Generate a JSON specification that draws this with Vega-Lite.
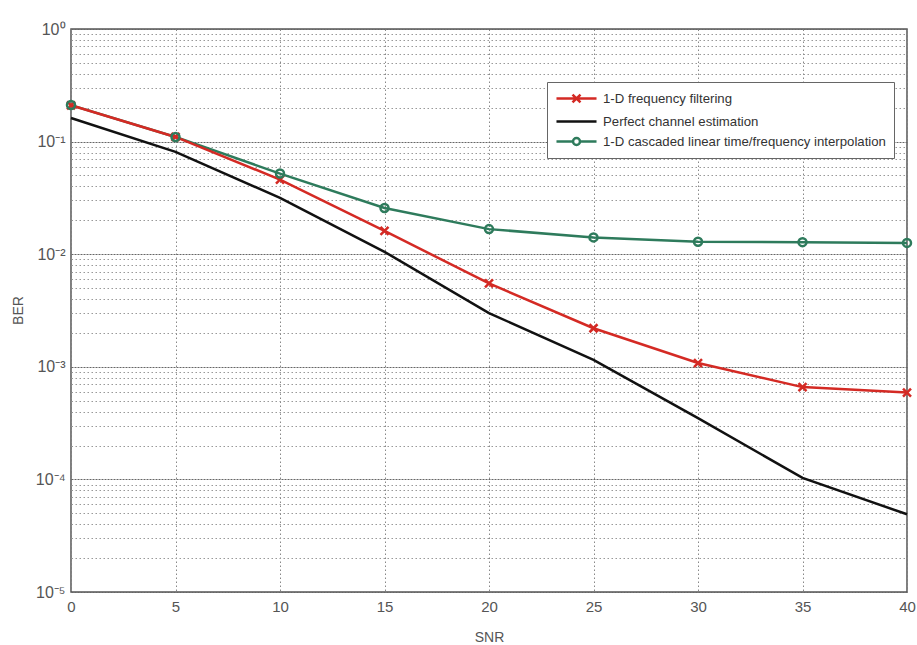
{
  "$schema": "https://vega.github.io/schema/vega-lite/v6.json",
  "autosize": "none",
  "width": 836,
  "height": 563,
  "padding": {"left": 71, "top": 29, "right": 10, "bottom": 53},
  "background": "white",
  "config": {
    "view": {"stroke": "#555", "strokeWidth": 1.5},
    "font": "Liberation Sans"
  },
  "data": {
    "values": [
      {"SNR": 0, "BER": 0.21, "series": "1-D frequency filtering"},
      {"SNR": 5, "BER": 0.11, "series": "1-D frequency filtering"},
      {"SNR": 10, "BER": 0.046, "series": "1-D frequency filtering"},
      {"SNR": 15, "BER": 0.0161, "series": "1-D frequency filtering"},
      {"SNR": 20, "BER": 0.0055, "series": "1-D frequency filtering"},
      {"SNR": 25, "BER": 0.0022, "series": "1-D frequency filtering"},
      {"SNR": 30, "BER": 0.00108, "series": "1-D frequency filtering"},
      {"SNR": 35, "BER": 0.00066, "series": "1-D frequency filtering"},
      {"SNR": 40, "BER": 0.00059, "series": "1-D frequency filtering"},
      {"SNR": 0, "BER": 0.162, "series": "Perfect channel estimation"},
      {"SNR": 5, "BER": 0.081, "series": "Perfect channel estimation"},
      {"SNR": 10, "BER": 0.0316, "series": "Perfect channel estimation"},
      {"SNR": 15, "BER": 0.0105, "series": "Perfect channel estimation"},
      {"SNR": 20, "BER": 0.003, "series": "Perfect channel estimation"},
      {"SNR": 25, "BER": 0.00115, "series": "Perfect channel estimation"},
      {"SNR": 30, "BER": 0.00035, "series": "Perfect channel estimation"},
      {"SNR": 35, "BER": 0.000103, "series": "Perfect channel estimation"},
      {"SNR": 40, "BER": 0.000049, "series": "Perfect channel estimation"},
      {"SNR": 0, "BER": 0.211, "series": "1-D cascaded linear time/frequency interpolation"},
      {"SNR": 5, "BER": 0.11, "series": "1-D cascaded linear time/frequency interpolation"},
      {"SNR": 10, "BER": 0.052, "series": "1-D cascaded linear time/frequency interpolation"},
      {"SNR": 15, "BER": 0.0257, "series": "1-D cascaded linear time/frequency interpolation"},
      {"SNR": 20, "BER": 0.0167, "series": "1-D cascaded linear time/frequency interpolation"},
      {"SNR": 25, "BER": 0.0141, "series": "1-D cascaded linear time/frequency interpolation"},
      {"SNR": 30, "BER": 0.0129, "series": "1-D cascaded linear time/frequency interpolation"},
      {"SNR": 35, "BER": 0.0128, "series": "1-D cascaded linear time/frequency interpolation"},
      {"SNR": 40, "BER": 0.0126, "series": "1-D cascaded linear time/frequency interpolation"}
    ]
  },
  "encoding": {
    "x": {
      "field": "SNR", "type": "quantitative",
      "scale": {"domain": [0, 40], "nice": false},
      "axis": {
        "title": "SNR", "values": [0,5,10,15,20,25,30,35,40],
        "grid": true, "gridDash": [1.5, 2.5], "gridColor": "#888", "gridWidth": 1,
        "domain": false, "tickSize": 0, "labelPadding": 7, "labelFlush": false,
        "labelFont": "Liberation Sans", "labelFontSize": 15, "labelColor": "#555",
        "titleFont": "Liberation Sans", "titleFontSize": 14, "titleFontWeight": "normal", "titleColor": "#555",
        "titleX": 418, "titleY": 45, "titleBaseline": "middle"
      }
    },
    "y": {
      "field": "BER", "type": "quantitative",
      "scale": {"type": "log", "domain": [0.00001, 1], "nice": false},
      "axis": {
        "title": "BER",
        "values": [0.00001,0.00002,0.00003,0.00004,0.00005,0.00006,0.00007,0.00008,0.00009,
                   0.0001,0.0002,0.0003,0.0004,0.0005,0.0006,0.0007,0.0008,0.0009,
                   0.001,0.002,0.003,0.004,0.005,0.006,0.007,0.008,0.009,
                   0.01,0.02,0.03,0.04,0.05,0.06,0.07,0.08,0.09,
                   0.1,0.2,0.3,0.4,0.5,0.6,0.7,0.8,0.9,1],
        "labelExpr": "abs(log(datum.value)/LN10 - round(log(datum.value)/LN10)) < 0.000001 ? ['10⁰','10⁻¹','10⁻²','10⁻³','10⁻⁴','10⁻⁵'][-round(log(datum.value)/LN10)] : ''",
        "grid": true,
        "gridDash": {"condition": {"test": "abs(log(datum.value)/LN10 - round(log(datum.value)/LN10)) < 0.000001", "value": [2, 1]}, "value": [1.5, 2.5]},
        "gridColor": {"condition": {"test": "abs(log(datum.value)/LN10 - round(log(datum.value)/LN10)) < 0.000001", "value": "#666"}, "value": "#999"},
        "gridWidth": 1,
        "domain": false, "tickSize": 0, "labelPadding": 6, "labelFlush": false,
        "labelFont": "Liberation Sans", "labelFontSize": 16, "labelColor": "#555",
        "labelOverlap": false,
        "titleFont": "Liberation Sans", "titleFontSize": 14, "titleFontWeight": "normal", "titleColor": "#555",
        "titleX": -53, "titleY": 281, "titleBaseline": "middle"
      }
    }
  },
  "layer": [
    {
      "transform": [{"filter": "datum.series == 'Perfect channel estimation'"}],
      "mark": {"type": "line", "strokeWidth": 2.5, "stroke": "#111111"}
    },
    {
      "transform": [{"filter": "datum.series == '1-D cascaded linear time/frequency interpolation'"}],
      "mark": {"type": "line", "strokeWidth": 2.5, "stroke": "#2e7b5c"}
    },
    {
      "transform": [{"filter": "datum.series == '1-D frequency filtering'"}],
      "mark": {"type": "line", "strokeWidth": 2.5, "stroke": "#d42a24"}
    },
    {
      "transform": [{"filter": "datum.series == '1-D frequency filtering'"}],
      "mark": {"type": "point", "shape": "M-1,-1L1,1M-1,1L1,-1", "size": 64, "filled": false, "stroke": "#d42a24", "strokeWidth": 2.5, "opacity": 1}
    },
    {
      "transform": [{"filter": "datum.series == '1-D cascaded linear time/frequency interpolation'"}],
      "mark": {"type": "point", "shape": "circle", "size": 64, "filled": false, "stroke": "#2e7b5c", "strokeWidth": 2.5, "opacity": 1}
    },
    {
      "mark": {"type": "point", "filled": false, "strokeWidth": 2.5, "size": 0},
      "encoding": {
        "color": {
          "field": "series", "type": "nominal",
          "scale": {
            "domain": ["1-D frequency filtering", "Perfect channel estimation", "1-D cascaded linear time/frequency interpolation"],
            "range": ["#d42a24", "#111111", "#2e7b5c"]
          },
          "legend": {
            "title": null, "orient": "none", "legendX": 476, "legendY": 53,
            "padding": 8, "symbolSize": 196, "symbolOffset": 13, "labelOffset": 18,
            "symbolStrokeWidth": 2.5, "rowPadding": 5, "symbolOpacity": 1,
            "labelFont": "Liberation Sans", "labelFontSize": 13.2, "labelColor": "#333", "labelLimit": 400,
            "strokeColor": "#666", "fillColor": "white"
          }
        },
        "shape": {
          "field": "series", "type": "nominal",
          "scale": {
            "domain": ["1-D frequency filtering", "Perfect channel estimation", "1-D cascaded linear time/frequency interpolation"],
            "range": [
              "M-2.86,0L2.86,0M-0.57,-0.57L0.57,0.57M-0.57,0.57L0.57,-0.57",
              "M-2.86,0L2.86,0",
              "M-2.86,0L-0.5,0A0.5,0.5 0 1 1 0.5,0A0.5,0.5 0 1 1 -0.5,0M0.5,0L2.86,0"
            ]
          }
        }
      }
    }
  ]
}
